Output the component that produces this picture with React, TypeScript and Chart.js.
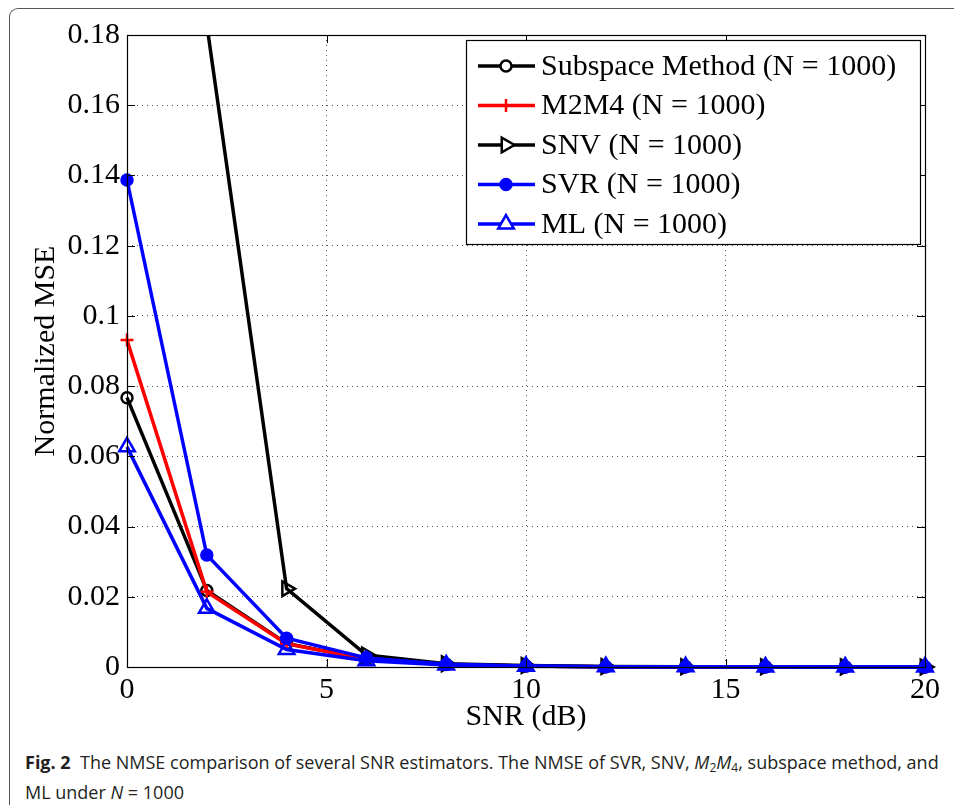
import React, { useEffect, useRef } from "react";
import { Chart, registerables } from "chart.js";
import { drawPoint } from "chart.js/helpers";

Chart.register(...registerables);

const snr = [0, 2, 4, 6, 8, 10, 12, 14, 16, 18, 20];
const subspace = [0.0767, 0.0218, 0.0067, 0.0022, 0.0007, 0.0003, 0.0001, 0.00006, 0.00004, 0.00003, 0.00002];
const m2m4 = [0.0931, 0.0214, 0.0066, 0.0022, 0.0007, 0.0003, 0.0001, 0.00006, 0.00004, 0.00003, 0.00002];
const snv = [0.5, 0.183, 0.0223, 0.0034, 0.0009, 0.0004, 0.00015, 0.00008, 0.00005, 0.00003, 0.00002];
const svr = [0.1387, 0.0319, 0.0082, 0.0026, 0.0008, 0.0003, 0.0001, 0.00006, 0.00004, 0.00003, 0.00002];
const ml = [0.0627, 0.0167, 0.005, 0.0018, 0.0006, 0.0002, 0.0001, 0.00005, 0.00003, 0.00002, 0.00001];

const seriesLabels = [
  "Subspace Method (N = 1000)",
  "M2M4 (N = 1000)",
  "SNV (N = 1000)",
  "SVR (N = 1000)",
  "ML (N = 1000)",
];

const xTicks = [0, 5, 10, 15, 20];
const xTickLabels = ["0", "5", "10", "15", "20"];
const yTicks = [0, 0.02, 0.04, 0.06, 0.08, 0.1, 0.12, 0.14, 0.16, 0.18];
const yTickLabels = ["0", "0.02", "0.04", "0.06", "0.08", "0.1", "0.12", "0.14", "0.16", "0.18"];

const SERIF = "'Liberation Serif', 'Times New Roman', serif";
const FS = 30;

const styles = [
  { color: "#000000", pointStyle: "circle", radius: 5.5, rotation: 0, fill: "rgba(0,0,0,0)", order: 5 },
  { color: "#ff0000", pointStyle: "cross", radius: 6.5, rotation: 0, fill: "#ff0000", order: 4 },
  { color: "#000000", pointStyle: "triangle", radius: 8.5, rotation: 90, fill: "rgba(0,0,0,0)", order: 3 },
  { color: "#0000ff", pointStyle: "circle", radius: 5.5, rotation: 0, fill: "#0000ff", order: 2 },
  { color: "#0000ff", pointStyle: "triangle", radius: 9, rotation: 0, fill: "rgba(0,0,0,0)", order: 1 },
];

const frameTicksPlugin = {
  id: "frameTicks",
  afterDatasetsDraw(chart: any) {
    const { ctx, chartArea } = chart;
    const { left, right, top, bottom } = chartArea;
    const xs = chart.scales.x;
    const ys = chart.scales.y;
    ctx.save();
    ctx.strokeStyle = "#000";
    ctx.lineWidth = 1;
    ctx.beginPath();
    const tl = 8;
    xTicks.forEach((v) => {
      const px = Math.round(xs.getPixelForValue(v)) + 0.5;
      ctx.moveTo(px, bottom);
      ctx.lineTo(px, bottom - tl);
      ctx.moveTo(px, top);
      ctx.lineTo(px, top + tl);
    });
    yTicks.forEach((v) => {
      const py = Math.round(ys.getPixelForValue(v)) + 0.5;
      ctx.moveTo(left, py);
      ctx.lineTo(left + tl, py);
      ctx.moveTo(right, py);
      ctx.lineTo(right - tl, py);
    });
    ctx.stroke();
    ctx.lineWidth = 1.2;
    ctx.strokeRect(Math.round(left) + 0.5, Math.round(top) + 0.5, Math.round(right - left), Math.round(bottom - top));
    ctx.restore();
  },
};

const legendPlugin = {
  id: "boxLegend",
  afterDraw(chart: any) {
    const { ctx } = chart;
    const bx = 466, by = 40, bw = 454, bh = 204;
    ctx.save();
    ctx.fillStyle = "#fff";
    ctx.fillRect(bx, by, bw, bh);
    ctx.strokeStyle = "#000";
    ctx.lineWidth = 1.2;
    ctx.strokeRect(bx + 0.5, by + 0.5, bw, bh);
    chart.data.datasets.forEach((ds: any, i: number) => {
      const y = 66 + i * 39.5;
      const st = styles[i];
      ctx.strokeStyle = st.color;
      ctx.lineWidth = 3.5;
      ctx.beginPath();
      ctx.moveTo(478, y);
      ctx.lineTo(535, y);
      ctx.stroke();
      ctx.fillStyle = st.fill === "rgba(0,0,0,0)" ? "#fff" : st.fill;
      ctx.strokeStyle = st.color;
      ctx.lineWidth = 2.5;
      drawPoint(ctx, { pointStyle: st.pointStyle, rotation: st.rotation, radius: st.radius, borderWidth: 2.5 } as any, 506, y);
      ctx.fillStyle = "#000";
      ctx.font = FS + "px " + SERIF;
      ctx.textBaseline = "middle";
      ctx.textAlign = "left";
      ctx.fillText(ds.label, 541, y + 1);
    });
    ctx.restore();
  },
};

function ChartCanvas() {
  const ref = useRef<HTMLCanvasElement | null>(null);
  useEffect(() => {
    if (!ref.current) return;
    const seriesData = [subspace, m2m4, snv, svr, ml];
    const chart = new Chart(ref.current, {
      type: "line",
      data: {
        datasets: seriesData.map((vals, i) => ({
          label: seriesLabels[i],
          data: snr.map((x, j) => ({ x, y: vals[j] })),
          borderColor: styles[i].color,
          backgroundColor: styles[i].fill,
          pointBackgroundColor: styles[i].fill,
          pointBorderColor: styles[i].color,
          pointStyle: styles[i].pointStyle as any,
          pointRotation: styles[i].rotation,
          pointRadius: styles[i].radius,
          pointBorderWidth: 2.5,
          borderWidth: 3.5,
          tension: 0,
          order: styles[i].order,
          clip: { left: false, top: 0, right: false, bottom: false } as any,
        })),
      },
      options: {
        animation: false,
        responsive: false,
        devicePixelRatio: 1,
        layout: { padding: { left: 0, top: 35, right: 29, bottom: 0 } },
        plugins: { legend: { display: false }, tooltip: { enabled: false } },
        scales: {
          x: {
            type: "linear",
            min: 0,
            max: 20,
            afterBuildTicks: (s: any) => {
              s.ticks = xTicks.map((v) => ({ value: v }));
            },
            afterFit: (s: any) => {
              s.height = 745 - 667;
              s.paddingLeft = 0;
              s.paddingRight = 0;
            },
            ticks: {
              autoSkip: false,
              maxRotation: 0,
              padding: 5,
              color: "#000",
              font: { family: SERIF, size: FS },
              callback: (v: any) => xTickLabels[xTicks.indexOf(Number(v))] ?? "",
            },
            grid: { color: "#555", lineWidth: 1, drawTicks: false },
            border: { display: false, dash: [1, 4] },
            title: {
              display: true,
              text: "SNR (dB)",
              color: "#000",
              font: { family: SERIF, size: FS },
              padding: { top: 0, bottom: 10 },
            },
          },
          y: {
            type: "linear",
            min: 0,
            max: 0.18,
            afterBuildTicks: (s: any) => {
              s.ticks = yTicks.map((v) => ({ value: v }));
            },
            afterFit: (s: any) => {
              s.width = 127;
              s.paddingTop = 0;
              s.paddingBottom = 0;
            },
            ticks: {
              autoSkip: false,
              padding: 7,
              color: "#000",
              font: { family: SERIF, size: FS },
              callback: (v: any, idx: number) => yTickLabels[idx] ?? "",
            },
            grid: { color: "#555", lineWidth: 1, drawTicks: false },
            border: { display: false, dash: [1, 4] },
            title: {
              display: true,
              text: "Normalized MSE",
              color: "#000",
              font: { family: SERIF, size: FS },
              padding: { top: 28, bottom: 0 },
            },
          },
        },
      },
      plugins: [frameTicksPlugin, legendPlugin],
    });
    return () => chart.destroy();
  }, []);
  return (
    <canvas
      ref={ref}
      width={954}
      height={745}
      style={{ position: "absolute", left: 0, top: 0, width: 954, height: 745 }}
    />
  );
}

export default function App() {
  return (
    <div style={{ position: "absolute", left: 0, top: 0, width: 954, height: 805, overflow: "hidden", background: "#fff" }}>
      <div
        style={{
          position: "absolute",
          left: 9,
          top: 8,
          width: 1000,
          height: 900,
          borderLeft: "1.5px solid #555",
          borderTop: "1.5px solid #555",
          borderTopLeftRadius: 9,
        }}
      />
      <ChartCanvas />
      <div
        style={{
          position: "absolute",
          left: 25,
          top: 750,
          fontFamily: "'Open Sans', 'Noto Sans', sans-serif",
          fontSize: 18,
          lineHeight: "24px",
          color: "#231f20",
          whiteSpace: "nowrap",
        }}
      >
        <b>Fig. 2</b>&nbsp; The NMSE comparison of several SNR estimators. The NMSE of SVR, SNV, <i>M</i>
        <sub style={{ fontSize: 12, verticalAlign: "-3px" }}>2</sub>
        <i>M</i>
        <sub style={{ fontSize: 12, verticalAlign: "-3px" }}>4</sub>, subspace method, and
        <br />
        ML under <i>N</i> = 1000
      </div>
    </div>
  );
}
